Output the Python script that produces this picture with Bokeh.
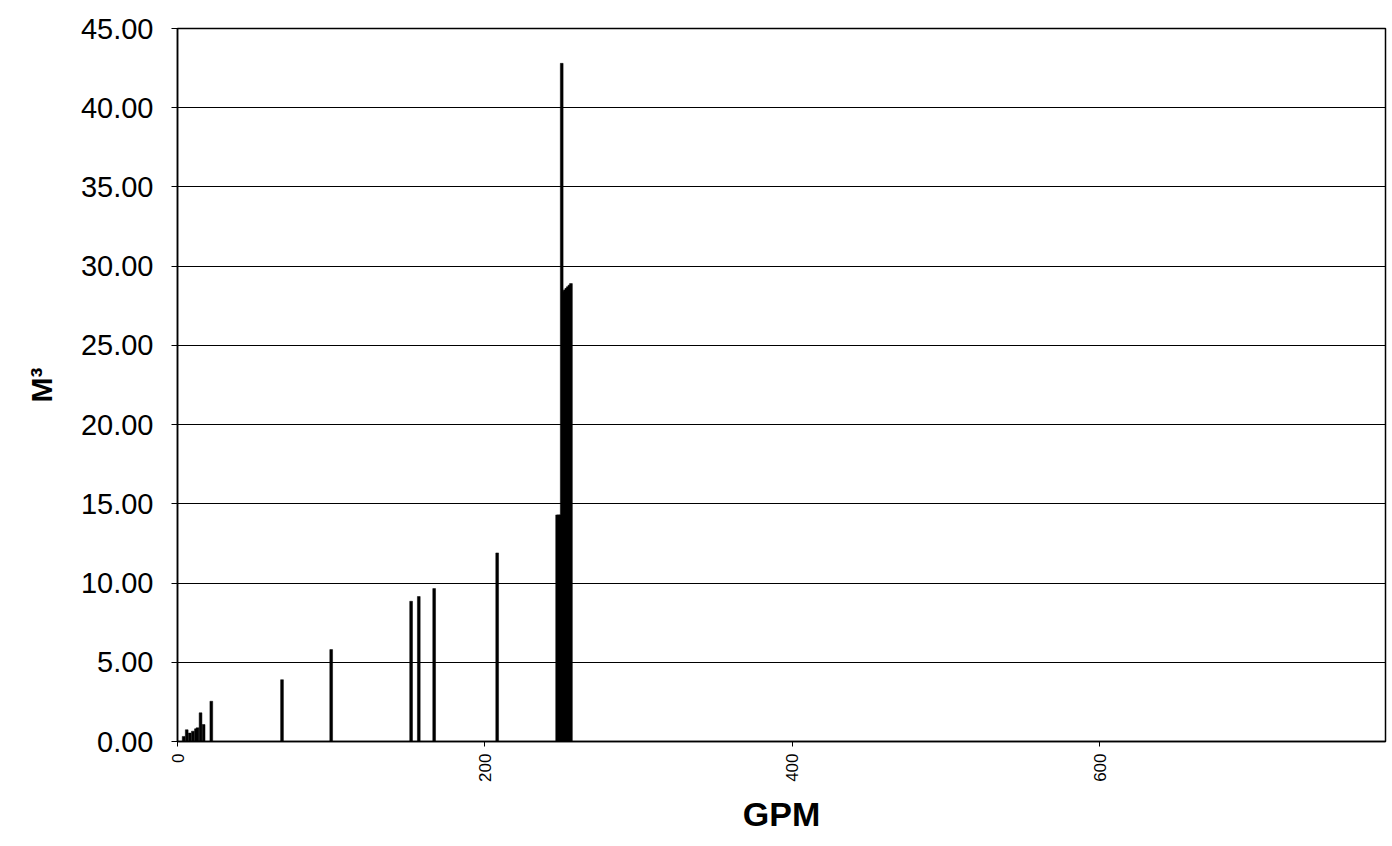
import math
from bokeh.plotting import figure
from bokeh.models import Range1d, FixedTicker, PrintfTickFormatter
from bokeh.embed import file_html
from bokeh.resources import INLINE

gpm = [4, 6, 8, 10, 12, 13, 15, 17, 22, 68, 100, 152, 157, 167, 208,
       247, 248, 249, 250, 251, 252, 253, 254, 255, 256]
m3 = [0.32, 0.74, 0.53, 0.65, 0.80, 0.86, 1.81, 1.07, 2.54, 3.90, 5.80, 8.85, 9.15, 9.65, 11.90,
      14.3, 14.3, 14.3, 42.8, 28.4, 28.5, 28.6, 28.7, 28.8, 28.9]
x_ticks = [0, 200, 400, 600]
y_ticks = [0, 5, 10, 15, 20, 25, 30, 35, 40, 45]

p = figure(width=1390, height=840, output_backend="svg", toolbar_location=None,
           x_range=Range1d(0, 786), y_range=Range1d(0, 45))
p.min_border_left = 177
p.min_border_right = 5
p.min_border_top = 28
p.min_border_bottom = 99
p.background_fill_color = "white"
p.border_fill_color = "white"
p.outline_line_color = "black"
p.outline_line_width = 1.5

p.vbar(x=gpm, top=m3, width=1.8, bottom=0, fill_color="black", line_color="black", line_width=0.5)

p.xgrid.visible = False
p.ygrid.ticker = FixedTicker(ticks=y_ticks)
p.ygrid.grid_line_color = "black"
p.ygrid.grid_line_width = 1

p.yaxis.ticker = FixedTicker(ticks=y_ticks)
p.yaxis.formatter = PrintfTickFormatter(format="%.2f")
p.yaxis.major_label_text_font = "Liberation Sans"
p.yaxis.major_label_text_font_size = "29px"
p.yaxis.major_label_text_color = "black"
p.yaxis.major_label_standoff = 18
p.yaxis.major_tick_out = 6
p.yaxis.major_tick_in = 0
p.yaxis.minor_tick_line_color = None
p.yaxis.axis_line_color = "black"
p.yaxis.axis_line_width = 1.5
p.yaxis.axis_label = "M³"
p.yaxis.axis_label_text_font = "Liberation Sans"
p.yaxis.axis_label_text_font_style = "bold"
p.yaxis.axis_label_text_font_size = "30px"
p.yaxis.axis_label_text_color = "black"
p.yaxis.axis_label_standoff = 20

p.xaxis.ticker = FixedTicker(ticks=x_ticks)
p.xaxis.major_label_orientation = math.pi / 2
p.xaxis.major_label_text_font = "Liberation Sans"
p.xaxis.major_label_text_font_size = "17px"
p.xaxis.major_label_text_color = "black"
p.xaxis.major_label_standoff = 7
p.xaxis.major_tick_out = 5
p.xaxis.major_tick_in = 0
p.xaxis.minor_tick_line_color = None
p.xaxis.axis_line_color = "black"
p.xaxis.axis_line_width = 1.5
p.xaxis.axis_label = "GPM"
p.xaxis.axis_label_text_font = "Liberation Sans"
p.xaxis.axis_label_text_font_style = "bold"
p.xaxis.axis_label_text_font_size = "34px"
p.xaxis.axis_label_text_color = "black"
p.xaxis.axis_label_standoff = 10

open("out.html", "w").write(file_html(p, INLINE))
